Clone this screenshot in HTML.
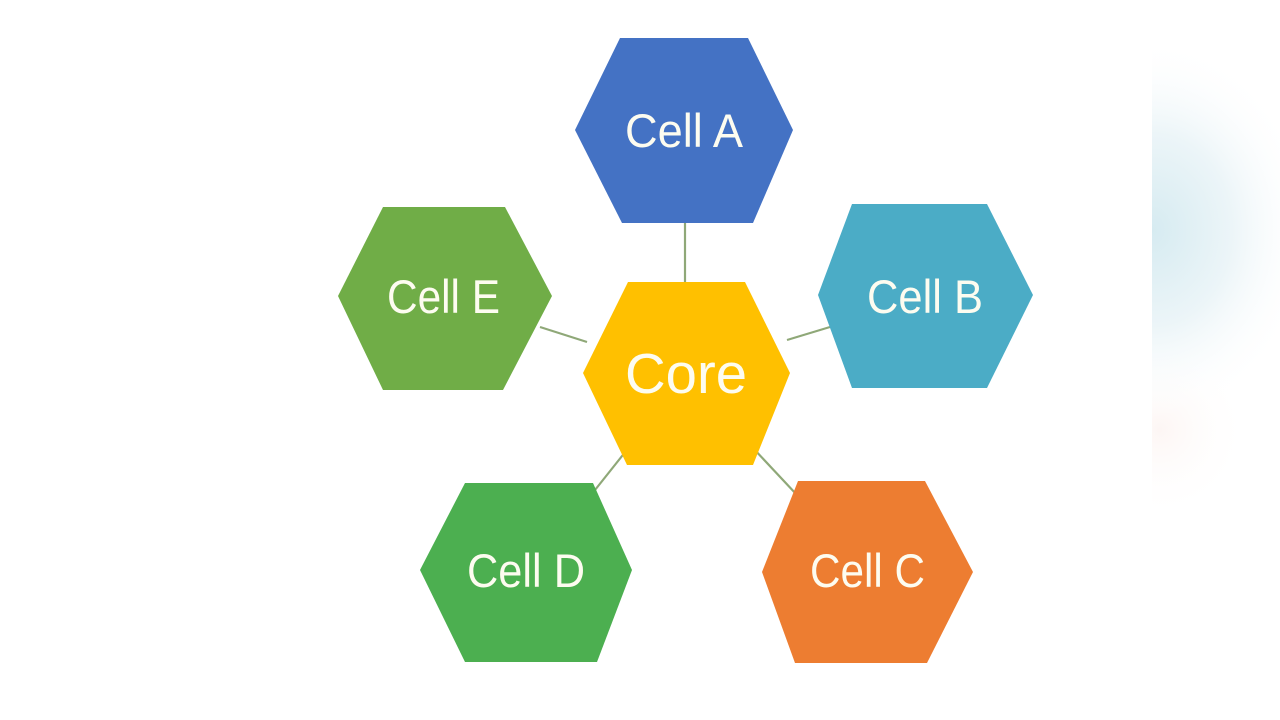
<!DOCTYPE html>
<html><head><meta charset="utf-8"><style>
html,body{margin:0;padding:0;background:#fff;}
svg{display:block;}
text{font-family:"Liberation Sans",sans-serif;fill:#fdfcf0;}
</style></head><body>
<svg width="1280" height="720" viewBox="0 0 1280 720" xmlns="http://www.w3.org/2000/svg">
<defs>
<radialGradient id="bl" cx="1152" cy="230" r="160" gradientUnits="userSpaceOnUse" gradientTransform="translate(1152 230) scale(1 1.2) translate(-1152 -230)">
<stop offset="0" stop-color="#d6ebf1"/>
<stop offset="0.5" stop-color="#ecf5f8"/>
<stop offset="1" stop-color="#ffffff" stop-opacity="0"/>
</radialGradient>
<radialGradient id="pk" cx="1160" cy="430" r="90" gradientUnits="userSpaceOnUse">
<stop offset="0" stop-color="#fdf6f4"/>
<stop offset="1" stop-color="#ffffff" stop-opacity="0"/>
</radialGradient>
</defs>
<rect width="1280" height="720" fill="#ffffff"/>
<rect x="1152" y="0" width="128" height="720" fill="url(#pk)"/>
<rect x="1152" y="0" width="128" height="720" fill="url(#bl)"/>
<g stroke="#8fa878" stroke-width="2.2" fill="none">
<line x1="685" y1="223" x2="685" y2="283"/>
<line x1="540" y1="327" x2="587" y2="342"/>
<line x1="787" y1="340" x2="830" y2="327"/>
<line x1="595" y1="490" x2="626" y2="451"/>
<line x1="753" y1="448" x2="797" y2="495"/>
</g>
<polygon points="620,38 748,38 793,130 753,223 622,223 575,130" fill="#4472c4"/>
<polygon points="383,207 505,207 552,296 503,390 383,390 338,296" fill="#70ad47"/>
<polygon points="852,204 987,204 1033,295 987,388 852,388 818,295" fill="#4bacc6"/>
<polygon points="628,282 745,282 790,373 753,465 627,465 583,373" fill="#ffc000"/>
<polygon points="465,483 593,483 632,570 597,662 465,662 420,570" fill="#4caf50"/>
<polygon points="798,481 925,481 973,572 927,663 795,663 762,572" fill="#ed7d31"/>
<text x="625" y="147" font-size="47" textLength="118" lengthAdjust="spacingAndGlyphs">Cell A</text>
<text x="387" y="313" font-size="47" textLength="113" lengthAdjust="spacingAndGlyphs">Cell E</text>
<text x="867" y="313" font-size="47" textLength="116" lengthAdjust="spacingAndGlyphs">Cell B</text>
<text x="625" y="393" font-size="57" textLength="122" lengthAdjust="spacingAndGlyphs">Core</text>
<text x="467" y="587" font-size="47" textLength="118" lengthAdjust="spacingAndGlyphs">Cell D</text>
<text x="810" y="587" font-size="47" textLength="115" lengthAdjust="spacingAndGlyphs">Cell C</text>
</svg>
</body></html>
